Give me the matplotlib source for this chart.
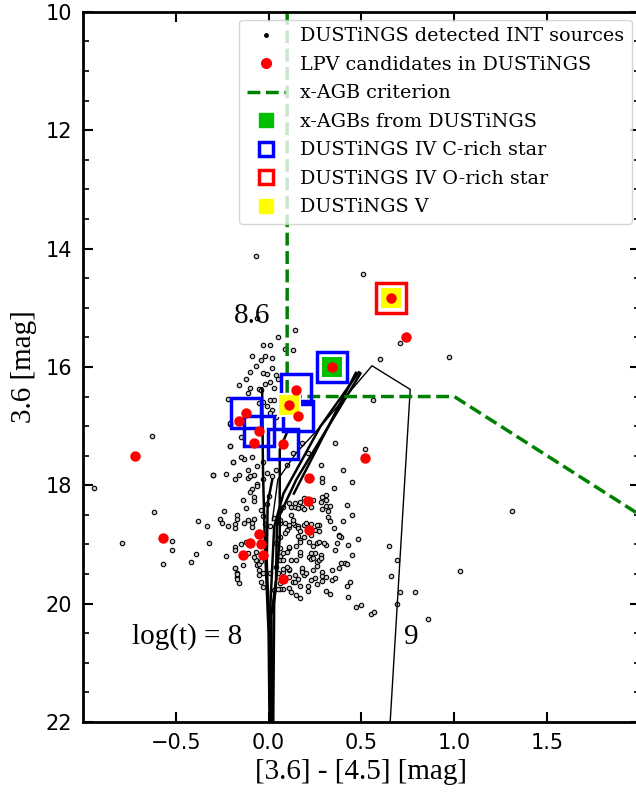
import matplotlib.pyplot as plt
import numpy as np
from matplotlib.lines import Line2D

# INT sources detected in DUSTiNGS: ([3.6]-[4.5], 3.6)
src_points = [
    (-0.94, 18.05), (-0.63, 17.16), (-0.62, 18.45), (-0.79, 18.97), (-0.52, 18.94),
    (-0.52, 19.09), (-0.57, 19.33), (-0.42, 19.30), (-0.39, 19.16), (-0.32, 18.97),
    (-0.38, 18.61), (-0.33, 18.68), (-0.30, 17.83), (-0.23, 17.81), (-0.26, 18.57),
    (-0.25, 18.64), (-0.23, 19.19), (-0.18, 17.90), (-0.16, 17.83), (-0.19, 17.61),
    (-0.21, 17.33), (-0.21, 16.97), (-0.18, 18.66), (-0.13, 18.64), (-0.14, 18.25),
    (-0.17, 19.49), (-0.18, 19.40), (-0.17, 19.55), (-0.16, 19.65), (-0.14, 19.35),
    (-0.13, 17.56), (-0.09, 17.53), (-0.08, 17.83), (-0.11, 17.88), (-0.09, 18.07),
    (-0.08, 18.20), (-0.06, 17.97), (-0.12, 18.39), (-0.22, 18.68), (-0.24, 18.43),
    (-0.17, 18.57), (-0.08, 18.57), (-0.18, 19.04), (-0.07, 19.26), (-0.06, 19.35),
    (-0.05, 19.43), (-0.04, 19.63), (-0.03, 19.72), (-0.05, 19.52), (-0.07, 19.12),
    (-0.09, 18.63), (0.06, 18.64), (0.11, 18.70), (0.14, 18.67), (0.16, 18.69),
    (0.23, 18.65), (0.27, 18.67), (0.35, 18.73), (0.38, 18.84), (0.39, 18.88),
    (0.43, 19.01), (0.45, 19.18), (0.41, 19.31), (0.42, 19.33), (0.44, 19.63),
    (0.42, 19.71), (0.43, 19.88), (0.47, 20.05), (0.50, 20.02), (0.55, 20.17),
    (0.57, 20.14), (0.65, 19.02), (0.69, 19.27), (0.66, 19.53), (0.71, 19.81),
    (0.69, 20.00), (0.79, 19.81), (0.86, 20.26), (0.17, 18.93), (0.11, 19.06),
    (0.12, 19.26), (0.15, 19.26), (0.17, 19.18), (0.22, 19.21), (0.23, 19.25),
    (0.26, 19.30), (0.28, 19.18), (0.31, 19.01), (0.26, 18.97), (0.37, 18.97),
    (0.39, 19.32), (0.34, 19.43), (0.29, 19.46), (0.29, 19.54), (0.31, 19.55),
    (0.25, 19.57), (0.18, 19.44), (0.19, 19.52), (0.13, 19.64), (0.17, 19.70),
    (0.21, 19.70), (0.11, 19.74), (0.08, 19.76), (0.06, 19.75), (0.03, 19.77),
    (0.15, 19.86), (0.31, 19.78), (0.08, 19.46), (0.11, 19.43), (0.06, 19.26),
    (0.05, 19.49), (-0.18, 19.09), (-0.18, 19.39), (-0.17, 19.50), (-0.17, 19.59),
    (-0.15, 18.99), (-0.12, 18.95), (-0.05, 19.33), (0.08, 18.37), (0.12, 18.37),
    (0.14, 18.36), (0.16, 18.39), (0.18, 18.36), (0.19, 18.40), (0.26, 18.67),
    (0.31, 18.35), (0.33, 18.35), (0.32, 18.53), (0.27, 18.96), (0.11, 18.67),
    (0.13, 18.64), (0.10, 18.75), (0.16, 18.73), (0.17, 18.78), (0.19, 18.67),
    (0.20, 18.64), (0.17, 18.95), (0.22, 18.95), (0.11, 19.04), (0.06, 18.88),
    (0.08, 19.26), (0.08, 19.41), (0.11, 19.41), (0.11, 19.55), (0.06, 19.65),
    (0.05, 19.76), (0.14, 19.64), (0.18, 19.40), (0.18, 19.46), (0.27, 19.27),
    (0.28, 19.23), (0.25, 19.14), (0.24, 19.23), (-0.03, 15.63), (0.01, 15.63),
    (0.09, 15.70), (0.13, 15.71), (-0.09, 15.81), (-0.02, 15.82), (0.02, 15.85),
    (-0.07, 15.98), (0.02, 16.01), (-0.10, 16.08), (-0.03, 16.10), (-0.01, 16.12),
    (0.04, 16.14), (0.05, 16.21), (-0.12, 16.21), (-0.16, 16.30), (-0.02, 16.29),
    (0.01, 16.26), (-0.05, 16.38), (0.03, 16.36), (-0.11, 16.44), (-0.03, 16.59),
    (0.01, 16.56), (0.03, 16.56), (-0.05, 16.61), (-0.01, 16.66), (0.02, 16.73),
    (0.04, 16.84), (0.60, 15.86), (0.56, 16.56), (0.52, 17.39), (0.36, 17.29),
    (0.29, 17.88), (0.42, 18.34), (0.45, 18.51), (0.31, 18.17), (0.29, 18.19),
    (-0.06, 15.17), (0.05, 15.49), (-0.04, 15.88), (0.14, 15.37), (-0.22, 16.54),
    (-0.10, 16.36), (-0.04, 16.39), (0.01, 16.78), (-0.21, 16.95), (-0.15, 17.18),
    (-0.21, 17.34), (-0.19, 17.60), (-0.15, 17.53), (-0.11, 17.74), (-0.06, 17.68),
    (-0.10, 17.84), (-0.03, 17.60), (-0.01, 17.80), (0.02, 17.85), (0.04, 17.74),
    (0.10, 17.66), (0.13, 17.46), (0.18, 17.29), (-0.30, 17.82), (-0.07, 14.12),
    (0.51, 14.43), (0.71, 15.59), (0.97, 15.83), (1.31, 18.43), (1.03, 19.45),
    (0.00, 18.18), (0.03, 18.56), (0.06, 18.59), (0.09, 18.64), (0.12, 18.50),
    (0.06, 18.42), (0.11, 18.30), (0.14, 18.30), (0.17, 18.28), (0.19, 18.22),
    (0.23, 18.36), (0.24, 18.25), (0.29, 17.95), (0.31, 18.25), (0.28, 18.29),
    (0.29, 18.40), (0.32, 18.44), (0.33, 18.60), (0.25, 18.75), (0.27, 18.78),
    (0.23, 18.84), (0.16, 18.86), (0.13, 18.58), (0.09, 18.81), (0.04, 18.98),
    (0.06, 19.06), (0.10, 19.12), (0.15, 19.02), (0.19, 18.87), (0.24, 19.03),
    (0.30, 18.97), (0.38, 18.86), (0.36, 19.10), (0.34, 19.60), (0.38, 19.40),
    (0.29, 19.62), (0.24, 19.43), (0.23, 19.60), (0.20, 19.48), (0.16, 19.58),
    (0.14, 19.52), (0.10, 19.38), (0.12, 19.80), (0.17, 19.90), (0.21, 19.78),
    (0.26, 19.66), (0.33, 19.84), (0.36, 19.56), (0.04, 19.38), (0.01, 19.49),
    (-0.03, 19.49), (-0.04, 19.28), (-0.08, 19.21), (-0.11, 19.15), (0.06, 19.20),
    (0.08, 19.15), (0.17, 19.12), (0.23, 19.15), (0.26, 19.36), (-0.17, 18.50),
    (-0.18, 18.72), (-0.09, 18.70), (-0.05, 18.79), (-0.02, 18.66), (0.01, 18.69),
    (-0.03, 18.52), (-0.11, 18.59), (-0.04, 18.42), (-0.01, 18.32), (-0.03, 17.90),
    (-0.06, 18.02), (-0.08, 18.26), (-0.10, 18.12), (0.28, 17.65), (0.40, 17.75),
    (0.45, 17.95), (0.35, 18.05), (0.21, 17.46), (0.48, 18.90), (0.40, 18.60),
]

# LPV candidates
lpv_color = [-0.72, -0.57, 0.34, 0.15, 0.11, 0.16, -0.12, -0.16, -0.05, -0.08,
             0.08, 0.52, 0.22, 0.21, 0.22, -0.05, -0.10, -0.04, -0.14, -0.03,
             0.08, 0.66, 0.74]
lpv_mag = [17.50, 18.89, 16.00, 16.39, 16.64, 16.83, 16.78, 16.91, 17.08, 17.28,
           17.30, 17.54, 17.88, 18.27, 18.76, 18.83, 18.97, 18.99, 19.17, 19.17,
           19.59, 14.83, 15.49]

# x-AGB selection criterion
crit_color = [0.1, 0.1, 1.0, 2.0]
crit_mag = [10.0, 16.5, 16.5, 18.5]

xagb_color = [0.34]
xagb_mag = [16.00]
crich_color = [0.34, 0.15, -0.12, 0.16, -0.05, 0.08]
crich_mag = [16.00, 16.37, 16.78, 16.83, 17.08, 17.30]
orich_color = [0.66]
orich_mag = [14.83]
d5_color = [0.11, 0.66]
d5_mag = [16.64, 14.83]

# isochrones, log(t) = 8 ... 8.6 (thick) and 9 (thin)
iso_thick = [
    ([0.005, 0.0, -0.02, -0.03, -0.035], [22.0, 20.5, 19.0, 17.8, 16.36]),
    ([0.01, 0.005, -0.01, -0.005, 0.02], [22.0, 20.5, 19.3, 18.3, 17.9]),
    ([0.015, 0.01, 0.03, 0.08, 0.28, 0.486], [22.0, 20.0, 18.7, 18.14, 17.0, 16.09]),
    ([0.02, 0.015, 0.04, 0.045, 0.15, 0.495], [22.0, 20.2, 19.6, 18.6, 17.9, 16.11]),
    ([0.136, 0.47], [18.14, 16.10]),
    ([0.025, 0.03, 0.06, 0.06, 0.10], [22.0, 20.0, 18.9, 17.4, 17.1]),
]
iso9_color = [0.655, 0.763, 0.557, 0.40, 0.29, 0.15, 0.05, 0.02]
iso9_mag = [22.0, 16.38, 15.98, 16.56, 16.97, 17.45, 17.9, 18.6]

src_color, src_mag = np.array(src_points).T

fig = plt.figure(figsize=(6.36, 7.92), dpi=100)
ax = fig.add_axes([0.1305, 0.0884, 0.8755, 0.8966])

ax.plot(src_color, src_mag, 'o', ms=3.2, mfc='0.8', mec='k', mew=0.8, zorder=1)
for c, m in iso_thick:
    ax.plot(c, m, '-', color='k', lw=1.8, zorder=2)
ax.plot(iso9_color, iso9_mag, '-', color='k', lw=1.0, zorder=2)
ax.plot(crit_color, crit_mag, '--', color='green', lw=2.5, zorder=2)

ax.plot(crich_color, crich_mag, 's', ms=21, mfc='none', mec='blue', mew=2.5, zorder=3)
ax.plot(orich_color, orich_mag, 's', ms=21, mfc='none', mec='red', mew=2.5, zorder=3)
ax.plot(xagb_color, xagb_mag, 's', ms=16, mfc='#00c000', mec='w', mew=1.5, zorder=4)
ax.plot(d5_color, d5_mag, 's', ms=16, mfc='yellow', mec='w', mew=1.5, zorder=4)
ax.plot(lpv_color, lpv_mag, 'o', ms=7.5, color='red', mec='none', zorder=5)

serif = 'Liberation Serif'
ax.text(-0.09, 15.14, '8.6', fontsize=21, family=serif, ha='center', va='center')
ax.text(-0.44, 20.56, 'log(t) = 8', fontsize=21, family=serif, ha='center', va='center')
ax.text(0.77, 20.56, '9', fontsize=21, family=serif, ha='center', va='center')

ax.set_xlim(-1.0, 2.0)
ax.set_ylim(22, 10)
ax.set_xticks([-0.5, 0.0, 0.5, 1.0, 1.5])
ax.set_yticks(np.arange(10, 23, 2))
ax.set_yticks(np.arange(10, 22.1, 0.5), minor=True)
ax.tick_params(which='both', direction='in', top=True, right=True, labelsize=15, pad=8)
ax.tick_params(which='major', length=7, width=1.5)
ax.tick_params(which='minor', length=4, width=1.2)
for sp in ax.spines.values():
    sp.set_linewidth(2)

ax.set_xlabel('[3.6] - [4.5] [mag]', fontsize=21, family=serif, labelpad=4)
ax.set_ylabel('3.6 [mag]', fontsize=21, family=serif, labelpad=6)

handles = [
    Line2D([], [], ls='', marker='o', ms=2.5, color='k'),
    Line2D([], [], ls='', marker='o', ms=7, color='red'),
    Line2D([], [], ls='--', color='green', lw=2.5),
    Line2D([], [], ls='', marker='s', ms=10, color='#00c000'),
    Line2D([], [], ls='', marker='s', ms=10, mfc='none', mec='blue', mew=2.5),
    Line2D([], [], ls='', marker='s', ms=10, mfc='none', mec='red', mew=2.5),
    Line2D([], [], ls='', marker='s', ms=10, color='yellow'),
]
labels = ['DUSTiNGS detected INT sources', 'LPV candidates in DUSTiNGS', 'x-AGB criterion',
          'x-AGBs from DUSTiNGS', 'DUSTiNGS IV C-rich star', 'DUSTiNGS IV O-rich star',
          'DUSTiNGS V']
ax.legend(handles, labels, loc='upper right', prop={'family': 'DejaVu Serif', 'size': 13.8},
          handlelength=2.0, labelspacing=0.55, borderaxespad=0.4)

plt.savefig('out.png', dpi=100)
